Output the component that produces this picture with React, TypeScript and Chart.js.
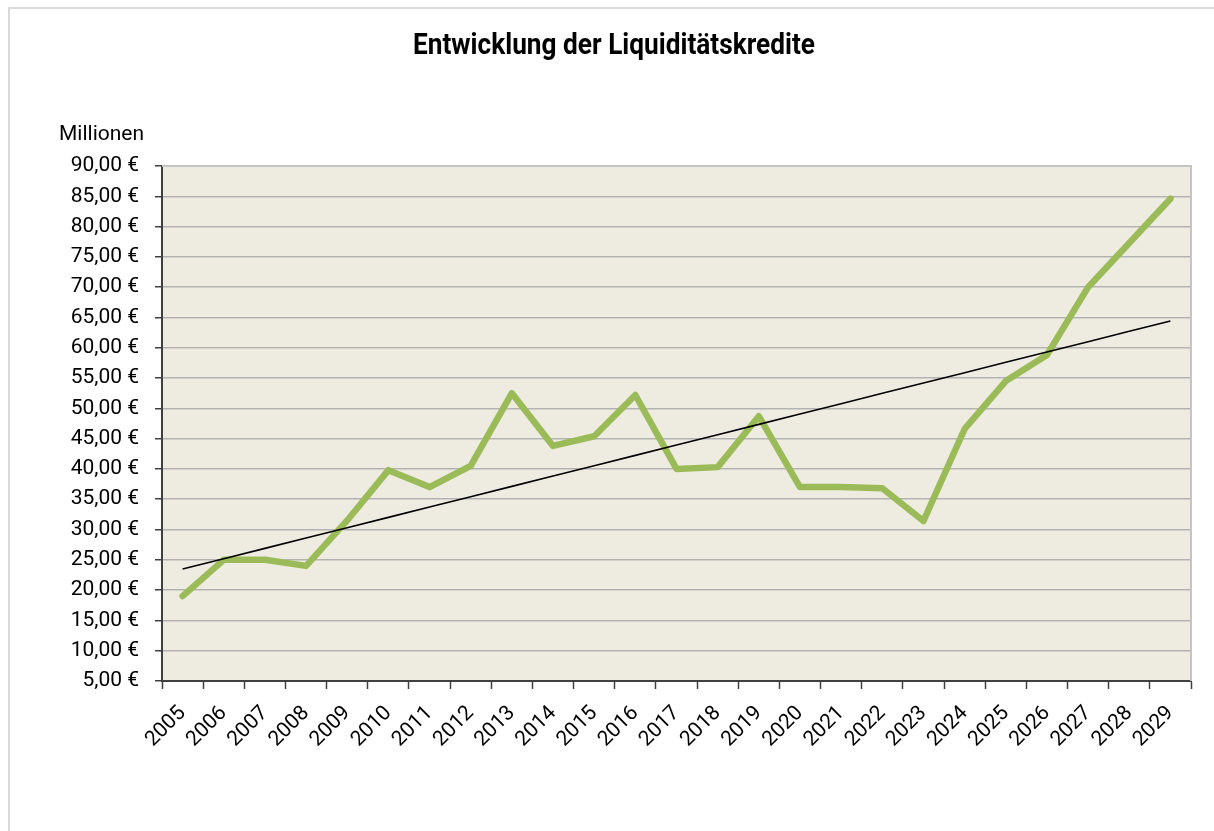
import React, { useEffect, useRef } from "react";
import { Chart, registerables } from "chart.js";

Chart.register(...registerables);

const chartTitle = "Entwicklung der Liquiditätskredite";
const unitLabel = "Millionen";
const years = [
  "2005", "2006", "2007", "2008", "2009", "2010", "2011", "2012", "2013",
  "2014", "2015", "2016", "2017", "2018", "2019", "2020", "2021", "2022",
  "2023", "2024", "2025", "2026", "2027", "2028", "2029",
];
const credits = [
  19.0, 25.0, 25.0, 24.0, 31.5, 39.8, 37.0, 40.5, 52.5, 43.8, 45.4, 52.2,
  40.0, 40.3, 48.7, 37.0, 37.0, 36.8, 31.4, 46.6, 54.5, 58.8, 70.0, 77.3, 84.6,
];
const yTickValues = [5, 10, 15, 20, 25, 30, 35, 40, 45, 50, 55, 60, 65, 70, 75, 80, 85, 90];

// linear trend line (least squares) of the credits series, as in the original chart
function linearTrend(values: number[]): number[] {
  const n = values.length;
  const mx = (n - 1) / 2;
  const my = values.reduce((a, b) => a + b, 0) / n;
  let sxy = 0;
  let sxx = 0;
  values.forEach((v, i) => {
    sxy += (i - mx) * (v - my);
    sxx += (i - mx) * (i - mx);
  });
  const slope = sxy / sxx;
  return values.map((_, i) => my + slope * (i - mx));
}

const fmtEuro = (v: number) => v.toFixed(2).replace(".", ",") + " €";

export default function App() {
  const canvasRef = useRef<HTMLCanvasElement | null>(null);

  useEffect(() => {
    if (!canvasRef.current) return;

    const decorPlugin = {
      id: "decor",
      beforeDraw(chart: any) {
        const { ctx, chartArea } = chart;
        ctx.save();
        ctx.fillStyle = "#EEECE1";
        ctx.fillRect(chartArea.left, chartArea.top, chartArea.right - chartArea.left, chartArea.bottom - chartArea.top);
        ctx.restore();
      },
      beforeDatasetsDraw(chart: any) {
        const { ctx, chartArea } = chart;
        ctx.save();
        ctx.strokeStyle = "#c4c4c4";
        ctx.lineWidth = 2;
        ctx.beginPath();
        ctx.moveTo(chartArea.left, chartArea.top);
        ctx.lineTo(chartArea.right, chartArea.top);
        ctx.lineTo(chartArea.right, chartArea.bottom);
        ctx.stroke();
        ctx.restore();
      },
      afterDraw(chart: any) {
        const { ctx } = chart;
        ctx.save();
        ctx.fillStyle = "#000";
        ctx.font = "bold 30px Roboto";
        ctx.textBaseline = "alphabetic";
        ctx.textAlign = "center";
        const w = ctx.measureText(chartTitle).width;
        ctx.translate(614, 54);
        ctx.scale(402 / w, 1);
        ctx.fillText(chartTitle, 0, 0);
        ctx.restore();

        ctx.save();
        ctx.fillStyle = "#000";
        ctx.font = "21px Roboto";
        ctx.textBaseline = "alphabetic";
        ctx.textAlign = "left";
        ctx.fillText(unitLabel, 59, 140);
        ctx.restore();
      },
    };

    const chart = new Chart(canvasRef.current, {
      type: "line",
      data: {
        labels: years,
        datasets: [
          {
            label: "Liquiditätskredite",
            data: credits,
            borderColor: "#9BBB59",
            backgroundColor: "#9BBB59",
            borderWidth: 6.5,
            pointRadius: 0,
            borderJoinStyle: "round",
            borderCapStyle: "round",
            tension: 0,
            order: 2,
          },
          {
            label: "Trend",
            data: linearTrend(credits),
            borderColor: "#000000",
            backgroundColor: "#000000",
            borderWidth: 1.6,
            pointRadius: 0,
            tension: 0,
            order: 1,
          },
        ],
      },
      options: {
        responsive: false,
        animation: false,
        layout: { padding: { left: 37, right: 23, top: 166, bottom: 0 } },
        plugins: {
          legend: { display: false },
          title: { display: false },
          tooltip: { enabled: false },
        },
        scales: {
          x: {
            offset: true,
            grid: {
              display: true,
              offset: true,
              drawOnChartArea: false,
              drawTicks: true,
              tickLength: 8,
              tickColor: "#404040",
              tickWidth: 1.5,
            },
            border: { display: true, color: "#404040", width: 2 },
            ticks: {
              color: "#000",
              font: { family: "Roboto", size: 21 },
              minRotation: 45,
              maxRotation: 45,
              padding: 12,
              autoSkip: false,
            },
            afterFit(scale: any) {
              scale.height = 150;
            },
          },
          y: {
            min: 5,
            max: 90,
            afterBuildTicks(scale: any) {
              scale.ticks = yTickValues.map((v) => ({ value: v }));
            },
            grid: {
              color: "#b3b3b3",
              lineWidth: 1.5,
              drawTicks: true,
              tickLength: 7,
              tickColor: "#404040",
              tickWidth: 1.5,
            },
            border: { display: true, color: "#404040", width: 2 },
            ticks: {
              color: "#000",
              font: { family: "Roboto", size: 21 },
              padding: 16,
              callback: (v: any) => fmtEuro(Number(v)),
            },
            afterFit(scale: any) {
              scale.width = 125;
            },
          },
        },
      },
      plugins: [decorPlugin],
    } as any);

    return () => chart.destroy();
  }, []);

  return (
    <div style={{ position: "fixed", left: 0, top: 0, width: 1214, height: 831, overflow: "hidden", background: "#fff" }}>
      <div
        style={{
          position: "absolute",
          left: 8,
          top: 7,
          width: 1300,
          height: 900,
          border: "2px solid #d9d9d9",
          boxSizing: "border-box",
        }}
      />
      <canvas ref={canvasRef} width={1214} height={831} style={{ position: "absolute", left: 0, top: 0 }} />
    </div>
  );
}
